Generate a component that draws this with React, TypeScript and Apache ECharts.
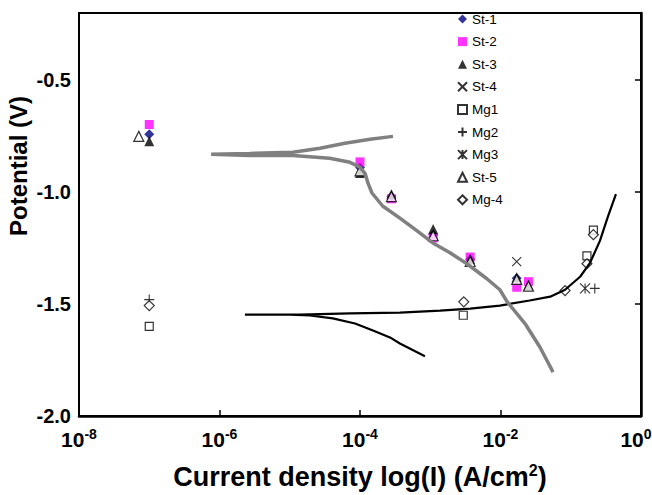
import React, { useEffect, useRef } from 'react';
import * as echarts from 'echarts';

// ---------- data ----------
const legendNames = ['St-1', 'St-2', 'St-3', 'St-4', 'Mg1', 'Mg2', 'Mg3', 'St-5', 'Mg-4'];
const xTickExponents = [-8, -6, -4, -2, 0];
const yTickValues = [-2.0, -1.5, -1.0, -0.5];

const st1X = [1e-7, 1e-4, 2.8e-4, 1.1e-3, 3.7e-3, 1.7e-2];
const st1Y = [-0.742, -0.89, -1.02, -1.19, -1.30, -1.385];
const st2X = [1e-7, 1e-4, 2.8e-4, 1.1e-3, 3.7e-3, 1.7e-2, 2.5e-2];
const st2Y = [-0.698, -0.865, -1.03, -1.205, -1.29, -1.425, -1.40];
const st3X = [1e-7, 1e-4, 2.8e-4, 1.1e-3, 3.7e-3, 1.7e-2, 2.5e-2];
const st3Y = [-0.773, -0.915, -1.01, -1.165, -1.30, -1.38, -1.415];
const st4X = [1.7e-2];
const st4Y = [-1.31];
const mg1X = [1e-7, 2.95e-3, 0.17, 0.21];
const mg1Y = [-1.60, -1.55, -1.285, -1.17];
const mg2X = [1e-7, 0.22];
const mg2Y = [-1.48, -1.43];
const mg3X = [0.16];
const mg3Y = [-1.43];
const st5X = [7.1e-8, 1e-4, 2.8e-4, 1.1e-3, 3.7e-3, 1.7e-2, 2.5e-2];
const st5Y = [-0.751, -0.905, -1.02, -1.195, -1.31, -1.39, -1.42];
const mg4X = [1e-7, 3e-3, 0.083, 0.17, 0.21];
const mg4Y = [-1.507, -1.49, -1.44, -1.32, -1.19];

// polarization curves
const stCurveX = [2.95e-4, 1.39e-4, 6.1e-5, 2.7e-5, 1.11e-5, 2.7e-6, 7.6e-7, 2.7e-6, 1.11e-5, 3.7e-5, 7.2e-5, 1.0e-4, 1.18e-4, 1.3e-4, 1.48e-4, 2.1e-4, 3.7e-4, 6.5e-4, 1.09e-3, 1.91e-3, 3.33e-3, 6.4e-3, 9.8e-3, 1.24e-2, 2.23e-2, 3.65e-2, 5.6e-2];
const stCurveY = [-0.751, -0.764, -0.782, -0.804, -0.822, -0.827, -0.831, -0.836, -0.836, -0.849, -0.867, -0.889, -0.916, -0.96, -1.004, -1.062, -1.116, -1.173, -1.227, -1.271, -1.32, -1.387, -1.436, -1.489, -1.587, -1.693, -1.804];
const mgCurveX = [0.44, 0.34, 0.26, 0.188, 0.136, 0.083, 0.051, 0.026, 9.8e-3, 3.7e-3, 1.38e-3, 3.7e-4, 7.2e-5, 1.4e-5, 2.3e-6, 1.01e-5, 1.94e-5, 4.1e-5, 8.5e-5, 1.53e-4, 2.67e-4, 3.7e-4, 8.4e-4];
const mgCurveY = [-1.009, -1.107, -1.218, -1.316, -1.378, -1.436, -1.467, -1.484, -1.507, -1.52, -1.529, -1.538, -1.542, -1.547, -1.547, -1.547, -1.551, -1.564, -1.587, -1.618, -1.649, -1.676, -1.733];

// ---------- helpers ----------
const FONT = 'Liberation Sans, Arial, Helvetica, sans-serif';
const zip = (xs: number[], ys: number[]) => xs.map((x, i) => [x, ys[i]]);

const XMARK = 'path://M0,0L10,10M10,0L0,10';
const PLUS = 'path://M5,0L5,10M0,5L10,5';
const STAR = 'path://M0,0L10,10M10,0L0,10M5,0L5,10';

function scatter(name: string, xs: number[], ys: number[], symbol: string, size: any, itemStyle: any) {
  return {
    name,
    type: 'scatter',
    data: zip(xs, ys),
    symbol,
    symbolSize: size,
    itemStyle,
    emphasis: { disabled: true },
  };
}

const strokeOnly = { color: 'rgba(0,0,0,0)', borderColor: '#000', borderWidth: 1.1 };
const openShape = { color: '#fff', borderColor: '#000', borderWidth: 1.2 };

export default function App() {
  const ref = useRef<HTMLDivElement>(null);
  useEffect(() => {
    if (!ref.current) return;
    const chart = echarts.init(ref.current, undefined, { renderer: 'svg' });
    const option: any = {
      animation: false,
      backgroundColor: '#fff',
      grid: {
        left: 79, right: 11, top: 13, bottom: 79,
        containLabel: false, outerBoundsMode: 'none',
        show: true, borderColor: '#000', borderWidth: 2, backgroundColor: 'transparent',
      },
      xAxis: [
        {
          type: 'log',
          logBase: 10,
          min: 1e-8,
          max: 1,
          position: 'bottom',
          axisLine: { show: true, lineStyle: { color: '#000', width: 2.5 } },
          axisTick: { show: false },
          minorTick: { show: false },
          splitLine: { show: false },
          axisLabel: {
            margin: 11,
            formatter: (v: number) => {
              const e = Math.round(Math.log10(v));
              if (xTickExponents.indexOf(e) < 0) return '';
              // last label is nudged left so it stays inside the page
              return '{b|10}{s|' + e + '}' + (e === 0 ? '{sp|}' : '');
            },
            rich: {
              b: { fontFamily: FONT, fontWeight: 'bold', fontSize: 21, color: '#000', lineHeight: 24 },
              s: { fontFamily: FONT, fontWeight: 'bold', fontSize: 14, color: '#000', lineHeight: 14, verticalAlign: 'top' },
              sp: { width: 10, lineHeight: 14 },
            },
          },
          name: '{t|Current density log(I) (A/cm}{s|2}{t|)}',
          nameLocation: 'middle',
          nameGap: 46,
          nameTextStyle: {
            rich: {
              t: { fontFamily: FONT, fontWeight: 'bold', fontSize: 27, color: '#000', lineHeight: 29 },
              s: { fontFamily: FONT, fontWeight: 'bold', fontSize: 16, color: '#000', lineHeight: 16, verticalAlign: 'top' },
            },
          },
        },
        {
          type: 'value',
          min: -8,
          max: 0,
          interval: 2,
          position: 'bottom',
          axisLine: { show: false },
          axisLabel: { show: false },
          splitLine: { show: false },
          axisTick: { show: true, inside: true, length: 6, lineStyle: { color: '#000', width: 1.5 } },
        },
      ],
      yAxis: {
        type: 'value',
        min: -2,
        max: -0.2,
        interval: 0.5,
        axisLine: { show: true, lineStyle: { color: '#000', width: 2.5 } },
        axisTick: { show: true, inside: false, length: 6, lineStyle: { color: '#000', width: 1.5 }, customValues: yTickValues },
        splitLine: { show: false },
        axisLabel: {
          customValues: yTickValues,
          margin: 8,
          fontFamily: FONT,
          fontWeight: 'bold',
          fontSize: 20,
          color: '#000',
          formatter: (v: number) => (Math.abs(v * 2 - Math.round(v * 2)) > 1e-6 ? '' : v.toFixed(1)),
        },
      },
      legend: {
        data: legendNames,
        orient: 'vertical',
        left: 457,
        top: 12,
        itemWidth: 9,
        itemHeight: 9,
        itemGap: 8.6,
        padding: 0,
        textStyle: { fontFamily: FONT, fontSize: 13.5, color: '#000', lineHeight: 14 },
        selectedMode: false,
      },
      graphic: [
        {
          type: 'text',
          x: 18,
          y: 166,
          rotation: Math.PI / 2,
          style: { text: 'Potential (V)', fontFamily: FONT, fontWeight: 'bold', fontSize: 24, fill: '#000', align: 'center', verticalAlign: 'middle' },
        },
      ],
      series: [
        {
          name: 'Mg curve',
          type: 'line',
          data: zip(mgCurveX, mgCurveY),
          showSymbol: false,
          symbol: 'none',
          lineStyle: { color: '#000', width: 2.2 },
          emphasis: { disabled: true },
        },
        {
          name: 'St curve',
          type: 'line',
          data: zip(stCurveX, stCurveY),
          showSymbol: false,
          symbol: 'none',
          lineStyle: { color: '#808080', width: 3.5 },
          emphasis: { disabled: true },
        },
        scatter('St-1', st1X, st1Y, 'diamond', 10, { color: '#000080' }),
        scatter('St-2', st2X, st2Y, 'rect', 9, { color: '#ff00ff' }),
        scatter('St-3', st3X, st3Y, 'triangle', 10, { color: '#000' }),
        scatter('St-4', st4X, st4Y, XMARK, 9, strokeOnly),
        scatter('Mg1', mg1X, mg1Y, 'rect', 8, openShape),
        scatter('Mg2', mg2X, mg2Y, PLUS, 10, strokeOnly),
        scatter('Mg3', mg3X, mg3Y, STAR, 10, strokeOnly),
        scatter('St-5', st5X, st5Y, 'triangle', 10, openShape),
        scatter('Mg-4', mg4X, mg4Y, 'diamond', 10, openShape),
      ],
    };
    chart.setOption(option);
    return () => chart.dispose();
  }, []);
  return <div ref={ref} style={{ position: 'absolute', left: 0, top: 0, width: 652, height: 495 }} />;
}
